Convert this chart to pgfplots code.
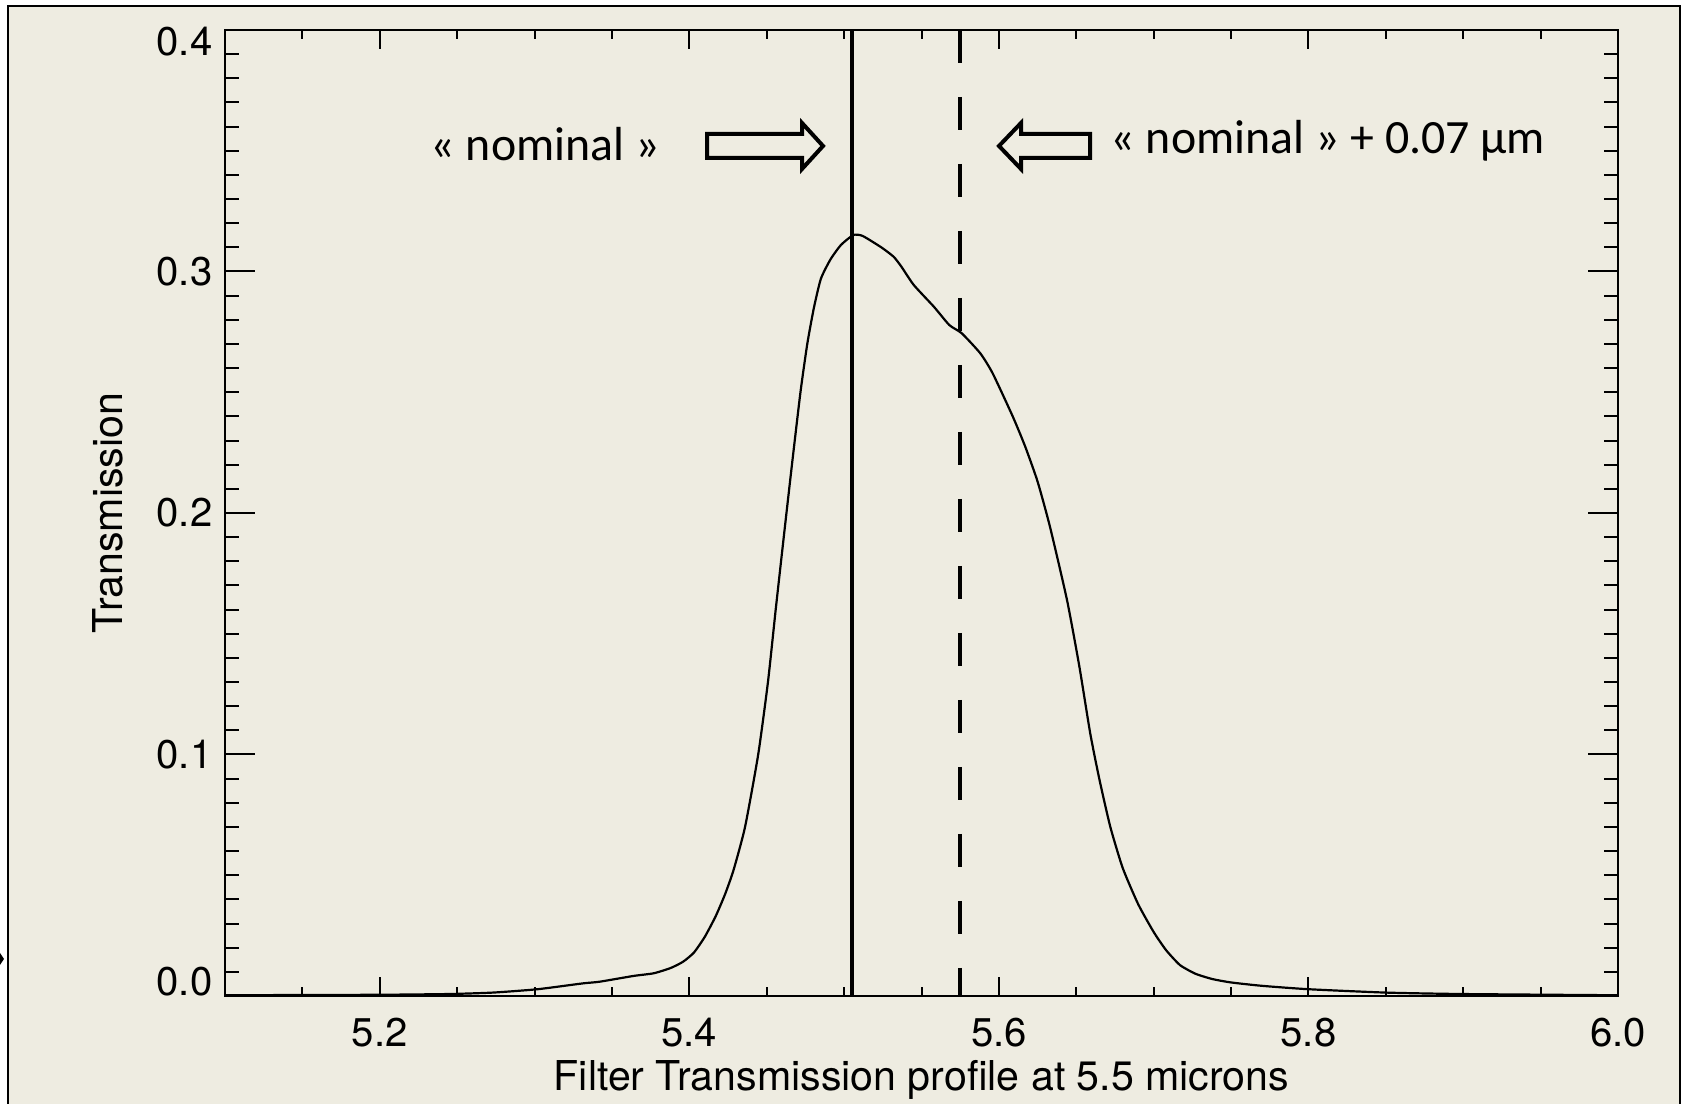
\documentclass[border=0pt]{standalone}
\usepackage{pgfplots}
\pgfplotsset{compat=1.18}
\usepackage{fontspec}
\setmainfont{TeX Gyre Heros}
\newfontfamily\calibri{Carlito}
\definecolor{bgbeige}{HTML}{EEECE1}

\pgfplotstableread{
x T
5.100 0.0003
5.150 0.0004
5.200 0.0005
5.244 0.0008
5.273 0.0014
5.302 0.0028
5.331 0.0052
5.342 0.0059
5.364 0.0083
5.377 0.0094
5.388 0.0116
5.396 0.0142
5.403 0.0180
5.410 0.0245
5.417 0.0330
5.423 0.0420
5.4285 0.0520
5.436 0.0700
5.4445 0.1000
5.4508 0.1300
5.4558 0.1600
5.4610 0.1900
5.4663 0.2200
5.4718 0.2500
5.4762 0.2700
5.4805 0.2850
5.4850 0.2970
5.4912 0.3050
5.4980 0.3110
5.5060 0.3151
5.512 0.3147
5.524 0.3100
5.532 0.3061
5.537 0.3020
5.545 0.2944
5.558 0.2854
5.568 0.2778
5.576 0.2744
5.588 0.2661
5.596 0.2578
5.609 0.2399
5.617 0.2275
5.625 0.2130
5.633 0.1943
5.644 0.1640
5.652 0.1364
5.659 0.1088
5.665 0.0895
5.672 0.0700
5.680 0.0530
5.690 0.0380
5.700 0.0265
5.708 0.0190
5.717 0.0128
5.727 0.0092
5.738 0.0070
5.750 0.0056
5.770 0.0042
5.800 0.0028
5.850 0.0014
5.900 0.0008
6.000 0.0003
}\curve

\begin{document}
\begin{tikzpicture}
\begin{scope}[x=0.1mm,y=-0.1mm,shift={(0,110.4mm)}]
\fill[white] (0,0) rectangle (1685,1104);
\fill[bgbeige] (8,6) rectangle (1680,1104);
\draw[line width=0.22mm] (8,1104) -- (8,6) -- (1680,6) -- (1680,1104);
\fill[black] (0,953) -- (4,959) -- (0,965) -- cycle;
\end{scope}

\begin{axis}[
  at={(22.5mm,10.8mm)}, anchor=south west,
  scale only axis, width=139.3mm, height=96.6mm,
  xmin=5.1, xmax=6.0, ymin=0, ymax=0.4,
  axis line style={line width=0.2mm},
  every tick/.style={black, line width=0.2mm},
  xtick={5.2,5.4,5.6,5.8,6.0},
  xticklabels={5.2,5.4,5.6,5.8,6.0},
  minor xtick={5.15,5.25,5.3,5.35,5.45,5.5,5.55,5.65,5.7,5.75,5.85,5.9,5.95},
  ytick=\empty,
  major tick length=1.9mm, minor tick length=0.9mm,
  tick align=inside,
  xticklabel style={font=\fontsize{11.4}{13}\selectfont, anchor=north, inner sep=0pt, yshift=-2.1mm},
  xlabel={Filter Transmission profile at 5.5 microns},
  xlabel style={font=\fontsize{11.7}{14}\selectfont, at={(axis description cs:0.5,0)}, anchor=north, inner sep=0pt, yshift=-6.4mm},
  clip=true,
]
\addplot[black, line width=0.22mm, smooth, tension=0.35] table[x=x,y=T] {\curve};
\addplot[black, line width=0.45mm] coordinates {(5.505,0.4) (5.505,0)};
\addplot[black, line width=0.4mm, dash pattern=on 3.3mm off 3.4mm] coordinates {(5.575,0.4) (5.575,0)};
\end{axis}

\begin{axis}[
  at={(22.5mm,10.8mm)}, anchor=south west,
  scale only axis, width=139.3mm, height=96.6mm,
  xmin=5.1, xmax=6.0, ymin=0, ymax=0.4,
  axis line style={line width=0.2mm},
  every tick/.style={black, line width=0.2mm},
  xtick=\empty,
  ytick={0,0.1,0.2,0.3,0.4},
  yticklabels={{\raisebox{1.4mm}[\height][\depth]{0.0}},0.1,0.2,0.3,{\raisebox{-1.2mm}[\height][\depth]{0.4}}},
  minor y tick num=9,
  major tick length=3.0mm, minor tick length=1.4mm,
  tick align=inside,
  yticklabel style={font=\fontsize{11.4}{13}\selectfont, anchor=east, inner sep=0pt, xshift=-1.2mm},
  ylabel={Transmission},
  ylabel style={font=\fontsize{11.7}{14}\selectfont, at={([xshift=-10.2mm]axis description cs:0,0.5)}, anchor=base, inner sep=0pt},
]
\end{axis}

\begin{scope}[x=0.1mm,y=-0.1mm,shift={(0,110.4mm)}]
\draw[line width=0.4mm, fill=bgbeige, line join=miter]
  (707,134) -- (802,134) -- (802,123) -- (823,146) -- (802,169) -- (802,158) -- (707,158) -- cycle;
\draw[line width=0.4mm, fill=bgbeige, line join=miter]
  (1090,134) -- (1021,134) -- (1021,123) -- (999,146) -- (1021,169) -- (1021,158) -- (1090,158) -- cycle;
\node[anchor=base west, inner sep=0pt, font=\calibri\fontsize{13.6}{16}\selectfont] at (430,161) {« nominal »};
\node[anchor=base west, inner sep=0pt, font=\calibri\fontsize{13.6}{16}\selectfont] at (1110,154) {« nominal » + 0.07 µm};
\end{scope}
\pgfresetboundingbox
\path[use as bounding box] (0,0) rectangle (168.5mm,110.4mm);
\end{tikzpicture}
\end{document}
